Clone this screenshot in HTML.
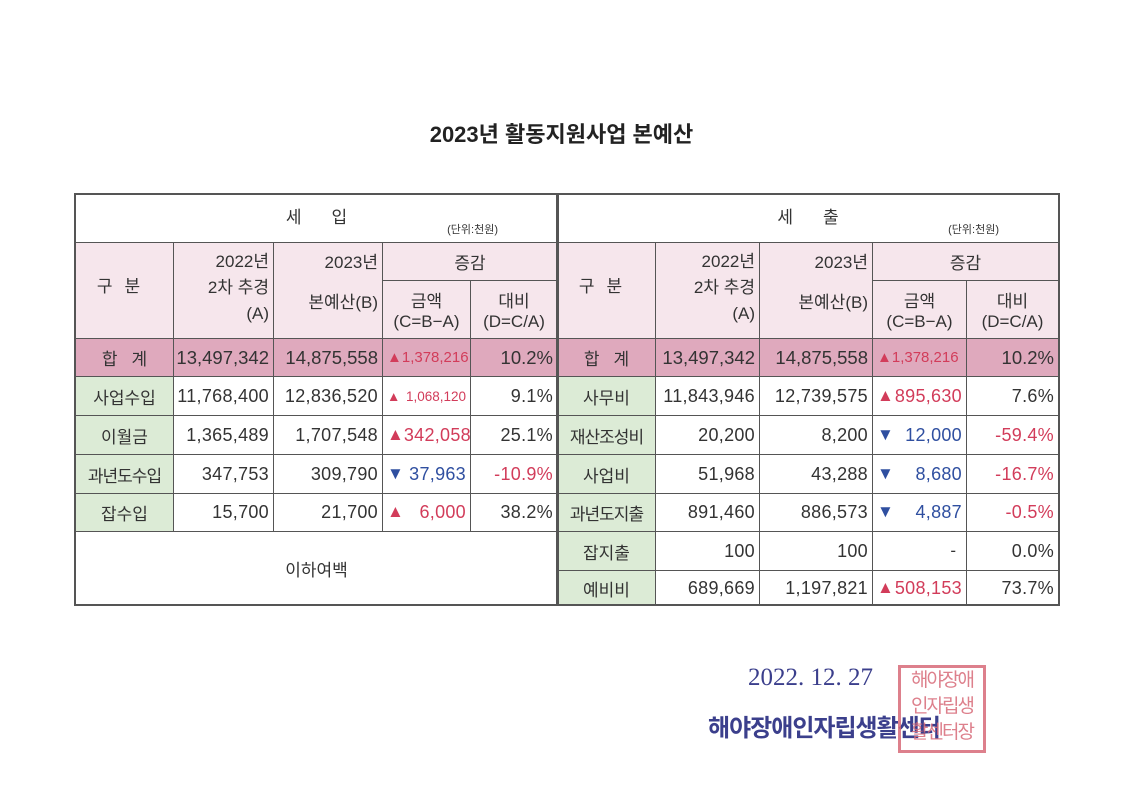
<!DOCTYPE html>
<html><head><meta charset="utf-8">
<style>
body{margin:0;width:1123px;height:794px;background:#fff;position:relative;overflow:hidden;font-family:"Liberation Sans","Noto Sans CJK KR",sans-serif;color:#333}
.c{position:absolute;box-sizing:border-box;border-left:1.5px solid #555;border-top:1.5px solid #555;display:flex;align-items:center;font-size:17px;white-space:nowrap;overflow:hidden}
.n{font-size:18px;letter-spacing:0.3px}
.frame{position:absolute;border:2px solid #555;box-sizing:border-box}
.up{color:#d23c5a}.dn{color:#2f4fa0}.neg{color:#d23c5a}
</style></head><body>
<div style="position:absolute;left:0;width:1123px;top:117px;text-align:center;font-size:22px;font-weight:bold;color:#222">2023년 활동지원사업 본예산</div>
<div id="root"></div>
<div class="frame" style="left:74px;top:193px;width:485px;height:413px"></div>
<div class="frame" style="left:556px;top:193px;width:504px;height:413px"></div>
<div style="position:absolute;left:748px;top:664px;font-family:'Liberation Serif','Noto Serif CJK SC',serif;font-size:25px;color:#3b3f8c">2022. 12. 27</div>
<div style="position:absolute;left:708px;top:708px;font-size:24px;font-weight:bold;color:#3b3f8c;letter-spacing:-1px">해야장애인자립생활센터</div>
<div style="position:absolute;left:898px;top:665px;width:88px;height:88px;border:3px solid #d86a78;box-sizing:border-box;color:#d86a78;font-size:19px;line-height:26px;text-align:center;letter-spacing:-2px;opacity:.85">해야장애<br>인자립생<br>활센터장</div>
<script>
const rows=[["사업수입","11,768,400","12,836,520",1,"1,068,120","9.1%"],["이월금","1,365,489","1,707,548",1,"342,058","25.1%"],["과년도수입","347,753","309,790",-1,"37,963","-10.9%"],["잡수입","15,700","21,700",1,"6,000","38.2%"]];
const rowsR=[["사무비","11,843,946","12,739,575",1,"895,630","7.6%"],["재산조성비","20,200","8,200",-1,"12,000","-59.4%"],["사업비","51,968","43,288",-1,"8,680","-16.7%"],["과년도지출","891,460","886,573",-1,"4,887","-0.5%"],["잡지출","100","100",0,"-","0.0%"],["예비비","689,669","1,197,821",1,"508,153","73.7%"]];
const rowY=[376,415,454,493,531,570,605];
const root=document.getElementById('root');
function cell(x1,y1,x2,y2,bg,html,al,name,extra){
 const d=document.createElement('div');
 d.className='c';
 d.style.cssText=`left:${x1}px;top:${y1}px;width:${x2-x1}px;height:${y2-y1}px;background:${bg};justify-content:${al};padding:0 4px;`+(extra||'');
 d.innerHTML=html;
 
 
 root.appendChild(d);
}
const PINK='#f6e6ec',TOT='#dfa9bd',GRN='#dcebd6';
function side(X,title,data,pre){
 const [a,b,c,d,e,f]=X;
 cell(a,194,f,242,'#fff',`<div style="width:100%;text-align:center;position:relative;height:100%"><span style="position:absolute;left:0;right:0;top:8px;letter-spacing:30px;padding-left:30px">${title}</span><span style="position:absolute;right:55px;top:26px;font-size:11px">(단위:천원)</span></div>`,'center',pre+'-section-header');
 cell(a,242,b,338,PINK,'<span style="letter-spacing:12px;margin-top:-12px">구분</span>','center',pre+'-category-header');
 cell(b,242,c,338,PINK,'<div style="text-align:right;width:100%;line-height:22px">2022년<br><span style="line-height:30px">2차 추경</span><br>(A)</div>','flex-end',pre+'-2022-header','align-items:flex-start;padding-top:8px');
 cell(c,242,d,338,PINK,'<div style="text-align:right;width:100%;">2023년<br><br>본예산(B)</div>','flex-end',pre+'-2023-header','align-items:flex-start;padding-top:10px;line-height:20px');
 cell(d,242,f,280,PINK,'증감','center',pre+'-change-header');
 cell(d,280,e,338,PINK,'<div style="text-align:center">금액<br>(C=B−A)</div>','center',pre+'-amount-header');
 cell(e,280,f,338,PINK,'<div style="text-align:center">대비<br>(D=C/A)</div>','center',pre+'-ratio-header');
 cell(a,338,b,376,TOT,'<span style="letter-spacing:14px;margin-right:-14px">합계</span>','center',pre+'-total-label');
 cell(b,338,c,376,TOT,'13,497,342','flex-end',pre+'-total-2022','font-size:18.5px');
 cell(c,338,d,376,TOT,'14,875,558','flex-end',pre+'-total-2023','font-size:18.5px');
 cell(d,338,e,376,TOT,'<span class="up">▲1,378,216</span>','flex-start',pre+'-total-change','font-size:15px');
 cell(e,338,f,376,TOT,'10.2%','flex-end',pre+'-total-ratio','font-size:18.5px');
 data.forEach((r,i)=>{
  const y1=rowY[i],y2=rowY[i+1];
  cell(a,y1,b,y2,GRN,r[0],'center',pre+'-row-label',r[0].length>4?'padding:0;letter-spacing:-1px':'');
  cell(b,y1,c,y2,'#fff',`<span class="n">${r[1]}</span>`,'flex-end',pre+'-row-2022');
  cell(c,y1,d,y2,'#fff',`<span class="n">${r[2]}</span>`,'flex-end',pre+'-row-2023');
  const small=r[4].length>7?'font-size:13.5px;':'';
  const amt=r[3]===0?'<span style="margin-left:auto;margin-right:6px">-</span>':`<span class="${r[3]>0?'up':'dn'}" style="display:flex;width:100%;justify-content:space-between;${small}"><span>${r[3]>0?'▲':'▼'}</span><span class="${small?'':'n'}">${r[4]}</span></span>`;
  cell(d,y1,e,y2,'#fff',amt,'flex-start',pre+'-row-change');
  cell(e,y1,f,y2,'#fff',`<span class="n ${r[5].startsWith('-')?'neg':''}">${r[5]}</span>`,'flex-end',pre+'-row-ratio');
 });
}
side([75,173,273,382,470,557],'세입',rows,'income');
side([557,655,759,872,966,1058],'세출',rowsR,'expense');
cell(75,531,557,605,'#fff','이하여백','center','blank-below-note');
</script>
</body></html>
